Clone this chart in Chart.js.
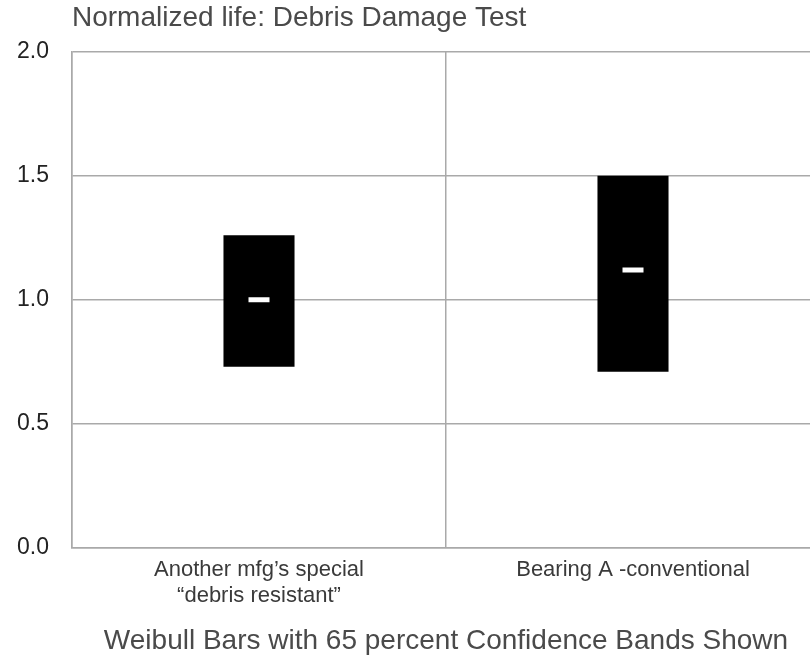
<!DOCTYPE html>
<html>
<head>
<meta charset="utf-8">
<script src="https://cdn.jsdelivr.net/npm/chart.js@4/dist/chart.umd.min.js"></script>
<style>
  html, body { margin: 0; padding: 0; background: #fff; overflow: hidden; }
  #wrap { width: 810px; height: 655px; overflow: hidden; position: relative; }
  #c { position: absolute; left: 0; top: 0; }
</style>
</head>
<body>
<div id="wrap"><canvas id="c" width="820" height="655"></canvas></div>
<script>
// Categories (bearing types)
const categories = [
  ["Another mfg\u2019s special", "\u201Cdebris resistant\u201D"],
  "Bearing A -conventional"
];
// 65 percent confidence band limits of normalized life
const bandLow  = [0.73, 0.71];
const bandHigh = [1.26, 1.50];
// Weibull estimate of normalized life
const median   = [1.00, 1.12];
// Value axis tick labels
const yTicks = [0.0, 0.5, 1.0, 1.5, 2.0];

const chartTitle = "Normalized life: Debris Damage Test";
const axisTitle  = "Weibull Bars with 65 percent Confidence Bands Shown";

const gridColor = "#a9a9a9";
const fontFamily = "'Liberation Sans', Arial, sans-serif";

const bands = bandLow.map((lo, i) => [lo, bandHigh[i]]);

new Chart(document.getElementById("c"), {
  type: "bar",
  data: {
    labels: categories,
    datasets: [
      {
        type: "bar",
        label: "Confidence band",
        data: bands,
        backgroundColor: "#000",
        borderWidth: 0,
        categoryPercentage: 0.19,
        barPercentage: 1.0,
        grouped: false,
        order: 2
      },
      {
        type: "line",
        label: "Weibull life",
        data: median,
        showLine: false,
        pointStyle: "line",
        pointRadius: 10.5,
        pointHoverRadius: 10.5,
        borderColor: "#fff",
        pointBorderColor: "#fff",
        pointBorderWidth: 5,
        borderWidth: 5,
        order: 1
      }
    ]
  },
  options: {
    responsive: false,
    animation: false,
    events: [],
    // the plot area runs on to the right edge of the (wider) canvas
    layout: { autoPadding: false, padding: { left: 17, right: 0, top: 0, bottom: 0 } },
    plugins: {
      legend: { display: false },
      tooltip: { enabled: false },
      title: {
        display: true,
        text: chartTitle,
        align: "start",
        fullSize: false,
        color: "#4a4a4a",
        font: { family: fontFamily, size: 28, weight: "normal", lineHeight: 1.2 },
        padding: { top: 1, bottom: 17 }
      }
    },
    scales: {
      x: {
        type: "category",
        offset: true,
        grid: { display: true, offset: true, color: gridColor, lineWidth: 1.5, drawTicks: false },
        border: { display: true, color: gridColor, width: 1.5 },
        ticks: {
          color: "#3a3a3a",
          padding: 9,
          maxRotation: 0,
          autoSkip: false,
          font: { family: fontFamily, size: 22, lineHeight: 1.18 }
        },
        title: {
          display: true,
          text: axisTitle,
          color: "#4a4a4a",
          font: { family: fontFamily, size: 28, lineHeight: 1.0 },
          padding: { top: 9, bottom: 0 }
        }
      },
      y: {
        min: 0,
        max: 2,
        afterFit: (scale) => { scale.width = 55; },
        afterBuildTicks: (scale) => { scale.ticks = yTicks.map(v => ({ value: v })); },
        grid: { color: gridColor, lineWidth: 1.5, drawTicks: false },
        border: { display: true, color: gridColor, width: 1.5 },
        ticks: {
          color: "#222",
          crossAlign: "far",
          padding: 0,
          font: { family: fontFamily, size: 23 },
          callback: (v) => Number(v).toFixed(1)
        }
      }
    }
  }
});
</script>
</body>
</html>
